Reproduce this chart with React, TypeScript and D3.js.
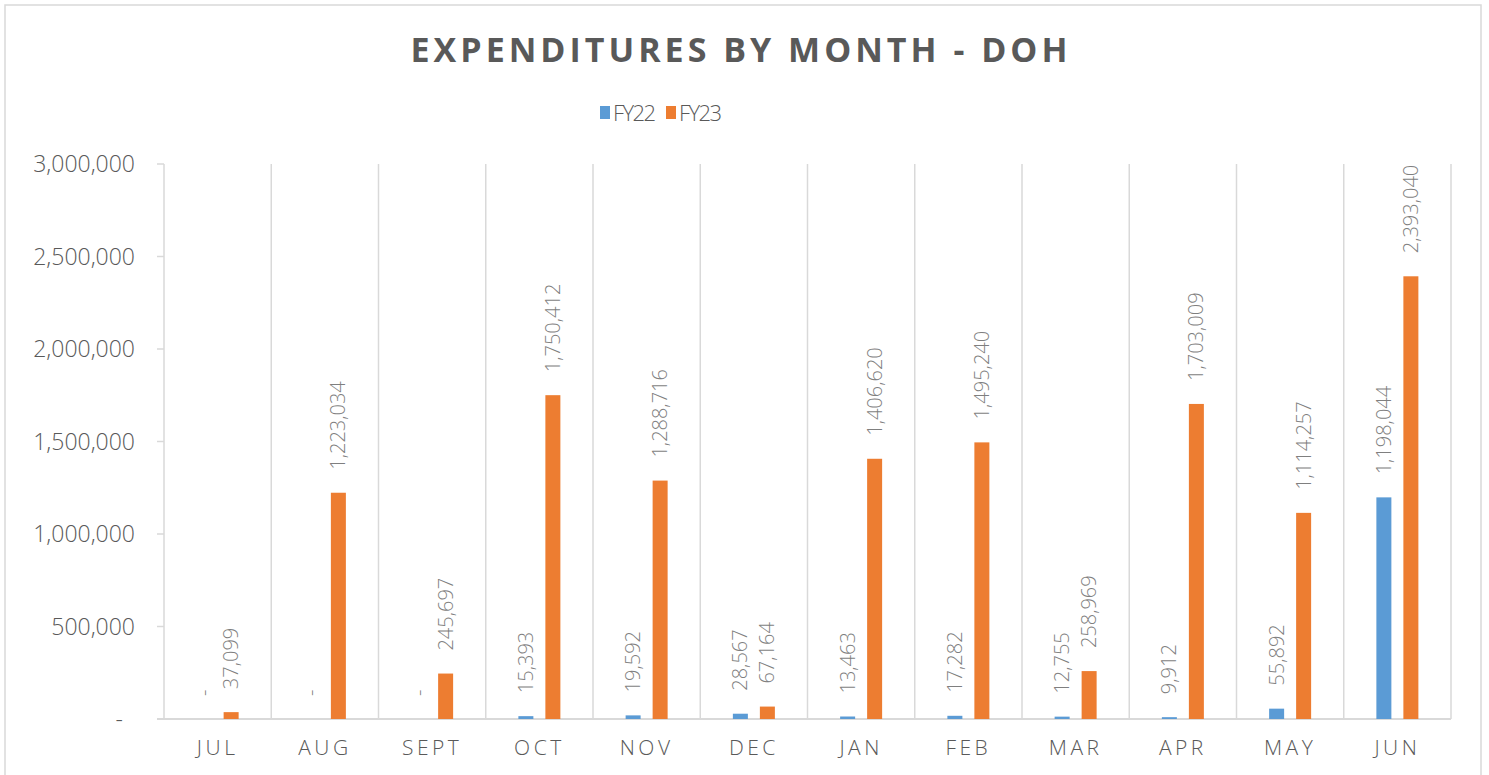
import React from "react";
import * as d3 from "d3";

const months = ["JUL", "AUG", "SEPT", "OCT", "NOV", "DEC", "JAN", "FEB", "MAR", "APR", "MAY", "JUN"];
const seriesNames = ["FY22", "FY23"];
const fy22 = [0, 0, 0, 15393, 19592, 28567, 13463, 17282, 12755, 9912, 55892, 1198044];
const fy23 = [37099, 1223034, 245697, 1750412, 1288716, 67164, 1406620, 1495240, 258969, 1703009, 1114257, 2393040];
const yTicks = [0, 500000, 1000000, 1500000, 2000000, 2500000, 3000000];
const colors = ["#5B9BD5", "#ED7D31"];

const W = 1489;
const H = 775;
const FONT = "'Open Sans', 'DejaVu Sans', sans-serif";
const TEXT = "#595959";
const GRID = "#D9D9D9";

export default function App() {
  const plot = { left: 164, right: 1451, top: 164, bottom: 719 };
  const x0 = d3.scaleBand<string>().domain(months).range([plot.left, plot.right]).paddingInner(0).paddingOuter(0);
  const x1 = d3.scaleBand<string>().domain(seriesNames).range([-21, 21]).paddingInner(12 / 27).paddingOuter(0);
  const y = d3.scaleLinear().domain([0, 3000000]).range([plot.bottom, plot.top]);
  const fmt = d3.format(",");
  const lab = (v: number) => (v === 0 ? "-" : fmt(v));
  const data = [fy22, fy23];
  const boundaries = d3.range(months.length + 1).map((i) => plot.left + i * x0.step());

  return (
    <svg width={W} height={H} style={{ position: "absolute", left: 0, top: 0, background: "#fff" }} fontFamily={FONT}>
      <rect x={5} y={5} width={1476} height={790} fill="#fff" stroke={GRID} strokeWidth={1.5} />
      <text x={741} y={62} textAnchor="middle" fontSize={34} fontWeight={700} letterSpacing={4} fill={TEXT}>
        EXPENDITURES BY MONTH - DOH
      </text>
      {/* legend */}
      <g>
        <rect x={600} y={106} width={10} height={13} fill={colors[0]} />
        <text x={613} y={113} dy="0.36em" fontSize={22} fontWeight={300} letterSpacing={-1.6} fill={TEXT}>{seriesNames[0]}</text>
        <rect x={666} y={106} width={10} height={13} fill={colors[1]} />
        <text x={679} y={113} dy="0.36em" fontSize={22} fontWeight={300} letterSpacing={-1.6} fill={TEXT}>{seriesNames[1]}</text>
      </g>
      {/* vertical gridlines */}
      {boundaries.map((bx, i) => (
        <line key={i} x1={bx} x2={bx} y1={plot.top} y2={plot.bottom} stroke={GRID} strokeWidth={1.5} />
      ))}
      {/* y ticks and labels */}
      {yTicks.map((t) => (
        <g key={t}>
          <line x1={157} x2={plot.left} y1={y(t)} y2={y(t)} stroke={GRID} strokeWidth={1.5} />
          <text x={t === 0 ? 123 : 135} y={y(t)} dy="0.35em" textAnchor="end" fontSize={23} fontWeight={300} fill={TEXT}>
            {lab(t)}
          </text>
        </g>
      ))}
      {/* x axis */}
      <line x1={157} x2={plot.right} y1={plot.bottom} y2={plot.bottom} stroke={GRID} strokeWidth={2} />
      {months.map((m) => (
        <text key={m} x={(x0(m) as number) + x0.bandwidth() / 2} y={755} textAnchor="middle" fontSize={21} fontWeight={300} letterSpacing={3.5} fill={TEXT}>
          {m}
        </text>
      ))}
      {/* bars */}
      {data.map((vals, si) =>
        vals.map((v, i) => {
          const cx = (x0(months[i]) as number) + x0.bandwidth() / 2 + (x1(seriesNames[si]) as number);
          return (
            <rect key={`${si}-${i}`} x={cx} y={y(v)} width={x1.bandwidth()} height={plot.bottom - y(v)} fill={colors[si]} />
          );
        })
      )}
      {/* labels */}
      {data.map((vals, si) =>
        vals.map((v, i) => {
          const cx = (x0(months[i]) as number) + x0.bandwidth() / 2 + (x1(seriesNames[si]) as number) + x1.bandwidth() / 2;
          const ty = y(v) - 23;
          return (
            <text
              key={`l${si}-${i}`}
              transform={`translate(${cx},${ty}) rotate(-90)`}
              dy="0.35em"
              textAnchor="start"
              fontSize={20}
              fontWeight={300}
              fill="#7F7F7F"
            >
              {lab(v)}
            </text>
          );
        })
      )}
    </svg>
  );
}
